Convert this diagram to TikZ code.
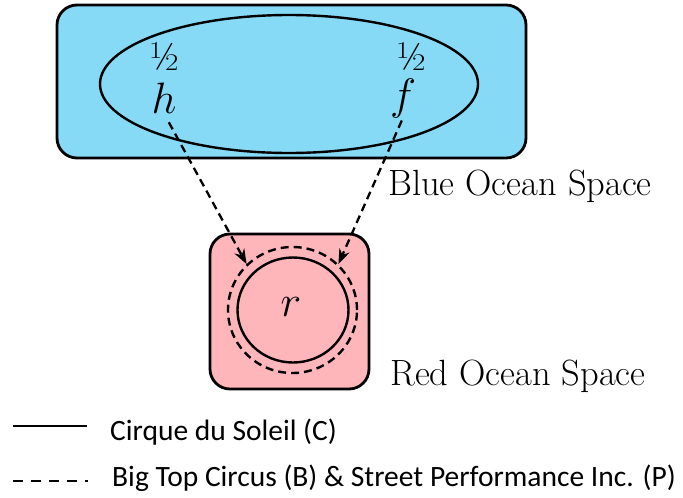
\RequirePackage{fix-cm}
\documentclass[tikz,border=0pt]{standalone}
\usepackage{fontspec}
\newfontfamily\legendfont{Carlito}
\usetikzlibrary{shapes.geometric,arrows.meta}
\definecolor{bluefill}{RGB}{135,218,246}
\definecolor{redfill}{RGB}{255,182,186}
\tikzset{
  space/.style={draw=black,line width=2.8pt,rounded corners=20pt,inner sep=0pt},
  dsh/.style={dashed,dash pattern=on 8pt off 5pt},
  conn/.style={dsh,line width=2.3pt,-{Stealth[length=15pt,width=11pt]}},
  lbl/.style={font=\fontsize{36.5}{42}\selectfont,anchor=west,inner sep=0pt},
  leg/.style={font=\legendfont\fontsize{29.5}{34}\selectfont,anchor=west,inner sep=0pt},
  var/.style={font=\fontsize{44}{50}\selectfont,inner sep=0pt},
  half/.style={font=\fontsize{40}{44}\selectfont,inner sep=0pt}
}
\begin{document}
\begin{tikzpicture}[x=1pt,y=-1pt]
\useasboundingbox (0,0) rectangle (683,498);
% blue ocean space
\node[space,fill=bluefill,minimum width=469pt,minimum height=153pt] (blue) at (291.5,81.5) {};
\node[draw,line width=2.4pt,ellipse,minimum width=378pt,minimum height=138pt,inner sep=0pt] (ell) at (289,84) {};
\node[half] (h2) at (165,57) {½};
\node[var] (h) at (164,98) {$h$};
\node[half] (f2) at (412,57) {½};
\node[var] (f) at (403,98) {$f$};
\node[lbl] (bluelbl) at (388,186) {Blue Ocean Space};
% red ocean space
\node[space,fill=redfill,minimum width=159pt,minimum height=155pt] (red) at (289.5,311.5) {};
\node[draw,line width=2.4pt,ellipse,minimum width=111pt,minimum height=105pt,inner sep=0pt] (sc) at (293,310) {};
\node[draw,dsh,line width=2.4pt,ellipse,minimum width=129pt,minimum height=126pt,inner sep=0pt] (dc) at (292.5,310) {};
\node[var] (r) at (291,307) {$r$};
\node[lbl] (redlbl) at (390,376) {Red Ocean Space};
% connectors
\draw[conn,shorten <=10pt] (h.south) -- (dc.135);
\draw[conn,shorten <=3pt] (f.south) -- (dc.45);
% legend
\coordinate (l1a) at (13,426);
\coordinate (l1b) at (87,426);
\draw[line width=2.2pt] (l1a) -- (l1b);
\node[leg] (leg1) at (110,432) {Cirque du Soleil (C)};
\coordinate (l2a) at (13,481);
\coordinate (l2b) at (88,481);
\draw[line width=2.2pt,dashed,dash pattern=on 10pt off 8pt] (l2a) -- (l2b);
\node[leg] (leg2) at (112,478) {Big Top Circus (B) \& Street Performance Inc. (P)};
\end{tikzpicture}
\end{document}
